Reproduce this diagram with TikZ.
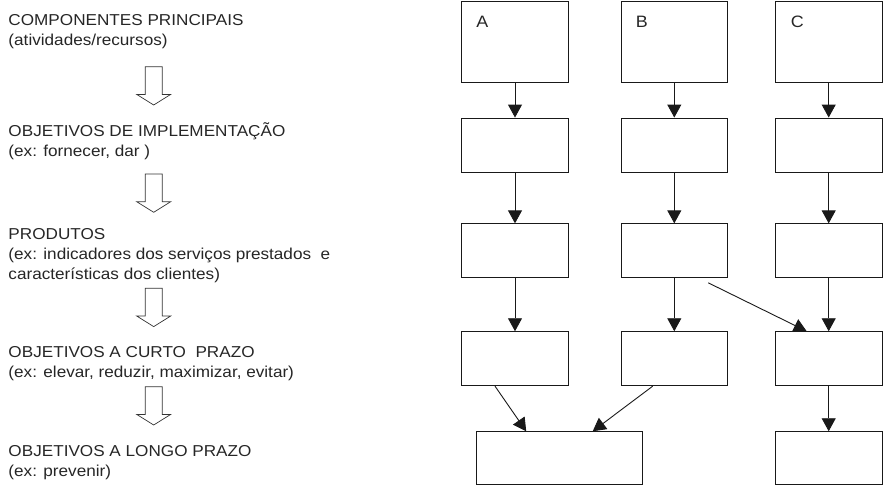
\documentclass[tikz,border=0pt]{standalone}
\usepackage{fontspec}
\setmainfont{Liberation Sans}[FakeStretch=1.085]
\usetikzlibrary{arrows.meta}

\begin{document}
\begin{tikzpicture}[x=1pt,y=-1pt,
        stage/.style={anchor=base west,inner sep=0,align=left,text=black!85,
            font=\fontsize{15.8}{20}\selectfont},
        box/.style={draw=black!90,line width=0.9pt,minimum width=106.6pt,minimum height=54pt,inner sep=0},
        tag/.style={anchor=base west,inner sep=0,text=black!85,font=\fontsize{16.5}{20}\selectfont},
        flow/.style={draw=black!90,line width=0.9pt,-{Triangle[length=13pt,width=14pt]}},
        hollow/.style={draw=black!80,line width=0.7pt}]
        % \draw[help lines,step=20] (0,0) grid (884,485);
        \useasboundingbox (0,0) rectangle (884,485);

        % left side: stages (base = last line)
        \node[stage] (comp) at (8.3,45.7) {COMPONENTES PRINCIPAIS\\(atividades/recursos)};
        \node[stage] (impl) at (8.3,156.7) {OBJETIVOS DE IMPLEMENTAÇÃO\\(ex: fornecer, dar )};
        \node[stage] (prod) at (8.3,279) {PRODUTOS\\(ex: indicadores dos serviços prestados~~e\\características dos clientes)};
        \node[stage] (curto) at (8.3,377.3) {OBJETIVOS A CURTO~~PRAZO\\(ex: elevar, reduzir, maximizar, evitar)};
        \node[stage] (longo) at (8.3,476) {OBJETIVOS A LONGO PRAZO\\(ex: prevenir)};

        \foreach \t in {66.7,174,288.3,386.7}
            \draw[hollow] (145.2,\t) -- ++(0,27.7) -- ++(-8.5,0) -- ++(17,10.6) -- ++(17,-10.6) -- ++(-8.5,0) -- ++(0,-27.7) -- cycle;

        % right side: columns A, B, C
        \node[box,minimum height=81pt] (a1) at (515,41.5) {};
        \node[box,minimum height=81pt] (b1) at (674.3,41.5) {};
        \node[box,minimum height=81pt] (c1) at (828.7,41.5) {};
        \node[tag] at ([shift={(15,27.3)}]a1.north west) {A};
        \node[tag] at ([shift={(15,27.3)}]b1.north west) {B};
        \node[tag] at ([shift={(15.7,27.3)}]c1.north west) {C};

        \node[box] (a2) at (515,145) {};
        \node[box] (b2) at (674.3,145) {};
        \node[box] (c2) at (828.7,145) {};
        \node[box] (a3) at (515,250.8) {};
        \node[box] (b3) at (674.3,250.8) {};
        \node[box] (c3) at (828.7,250.8) {};
        \node[box] (a4) at (515,358.7) {};
        \node[box] (b4) at (674.3,358.7) {};
        \node[box] (c4) at (828.7,358.7) {};
        \node[box,minimum width=166.3pt,minimum height=52.6pt] (ab5) at (559.2,458) {};
        \node[box,minimum height=52.6pt] (c5) at (828.7,458) {};

        \foreach \col in {a,b,c}{
            \draw[flow] (\col1) -- (\col2);
            \draw[flow] (\col2) -- (\col3);
            \draw[flow] (\col3) -- (\col4);
        }
        \draw[flow] (c4) -- (c5);
        \draw[flow] ([xshift=-20]a4.south) -- ([xshift=-33]ab5.north);
        \draw[flow] ([xshift=-21.6]b4.south) -- ([xshift=33.5]ab5.north);
        \draw[flow] ([shift={(34,4.6)}]b3.south) -- ([xshift=-22]c4.north);
\end{tikzpicture}
\end{document}
